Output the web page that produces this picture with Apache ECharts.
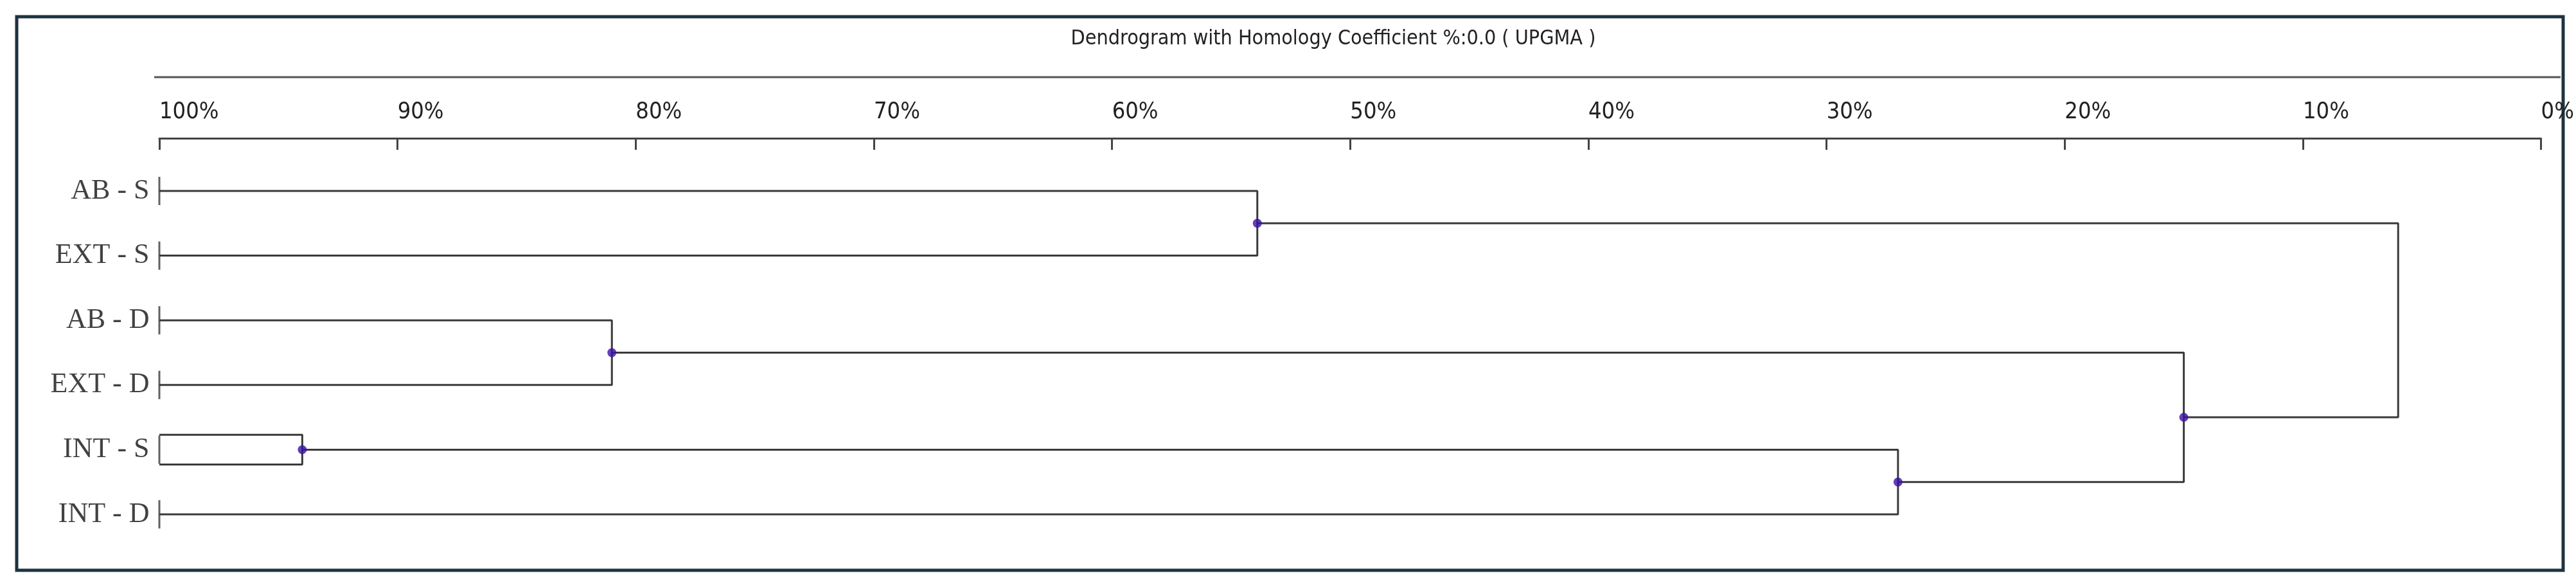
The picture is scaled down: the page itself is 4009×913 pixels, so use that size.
<!DOCTYPE html>
<html>
<head>
<meta charset="utf-8">
<script src="https://cdn.jsdelivr.net/npm/echarts@6/dist/echarts.min.js"></script>
<style>html,body{margin:0;padding:0;background:#fff}#chart{width:4009px;height:913px}</style>
</head>
<body>
<div id="chart"></div>
<script>
// 叶子节点
var leafNames = ['AB - S', 'EXT - S', 'AB - D', 'EXT - D', 'INT - S', 'INT - S2', 'INT - D'];
var leafShown = [true, true, true, true, true, false, true];
var leafY = [0, 1, 2, 3, 3.77, 4.23, 5];
// 合并：[子节点A, 子节点B, 相似度%]，节点编号 >= 7 表示前面的合并
var merges = [
  [0, 1, 53.9],
  [2, 3, 81.0],
  [4, 5, 94.0],
  [9, 6, 27.0],
  [8, 10, 15.0],
  [7, 11, 6.0]
];
var xTicks = [0, 10, 20, 30, 40, 50, 60, 70, 80, 90, 100];

var nodeX = [], nodeY = [];
for (var i = 0; i < leafNames.length; i++) { nodeX.push(100); nodeY.push(leafY[i]); }
var series = [];
var dots = [];
merges.forEach(function (m) {
  var a = m[0], b = m[1], h = m[2];
  series.push({
    type: 'line', symbol: 'none', silent: true,
    lineStyle: { color: '#3a3a3a', width: 3 },
    data: [[nodeX[a], nodeY[a]], [h, nodeY[a]], [h, nodeY[b]], [nodeX[b], nodeY[b]]]
  });
  var y = (nodeY[a] + nodeY[b]) / 2;
  nodeX.push(h); nodeY.push(y);
  dots.push([h, y]);
});
series.push({
  type: 'scatter', symbolSize: 14, itemStyle: { color: '#3b10a8' }, data: dots.slice(0, 5), z: 5
});
series.push({
  type: 'scatter', symbol: 'rect', symbolSize: [3, 44], itemStyle: { color: '#3a3a3a' },
  data: leafNames.map(function (n, i) { return leafShown[i] ? { value: [100, leafY[i] + (i == 4 ? 0.23 : 0)], name: n } : null; }).filter(Boolean),
  label: {
    show: true, position: 'left', distance: 14, formatter: '{b}',
    fontFamily: 'Liberation Serif', fontSize: 44, color: '#111'
  }
});

var myChart = echarts.init(document.getElementById('chart'));
myChart.setOption({
  animation: false,
  title: {
    text: 'Dendrogram with Homology Coefficient %:0.0 ( UPGMA )',
    left: 2070, top: 40, textAlign: 'center',
    textStyle: { fontFamily: 'DejaVu Sans Condensed', fontWeight: 'normal', fontSize: 32, color: '#222' }
  },
  grid: { left: 248, right: 30, top: 215, bottom: 26 },
  xAxis: {
    type: 'value', position: 'top', inverse: true, min: 0, max: 100, interval: 10,
    axisLine: { onZero: false, lineStyle: { color: '#444', width: 3 } },
    axisTick: { inside: true, length: 18, lineStyle: { color: '#444', width: 3 } },
    axisLabel: {
      formatter: '{value}%', align: 'left', margin: 22,
      fontFamily: 'DejaVu Sans Condensed', fontSize: 36, color: '#222'
    },
    splitLine: { show: false }
  },
  yAxis: {
    type: 'value', inverse: true, min: -0.815, max: 5.865, show: false
  },
  graphic: [
    { type: 'rect', shape: { x: 26, y: 26, width: 3963, height: 861 }, style: { fill: 'none', stroke: '#1d3340', lineWidth: 5 } },
    { type: 'line', shape: { x1: 240, y1: 120, x2: 3985, y2: 120 }, style: { stroke: '#555', lineWidth: 3 } }
  ],
  series: series
});
</script>
</body>
</html>
